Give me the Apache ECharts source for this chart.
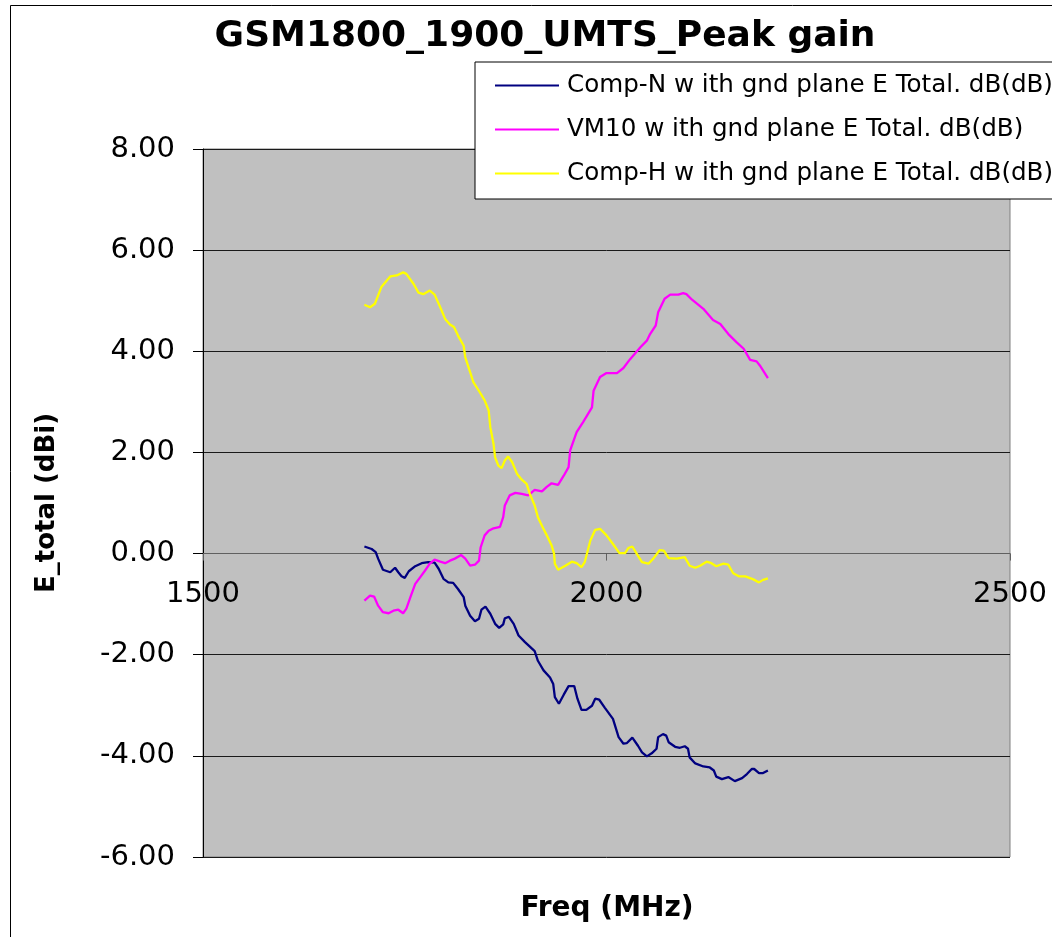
<!DOCTYPE html>
<html>
<head>
<meta charset="utf-8">
<script src="https://cdn.jsdelivr.net/npm/echarts@6/dist/echarts.min.js"></script>
<style>
html,body{margin:0;padding:0;background:#fff;}
#chart{width:1052px;height:937px;}
</style>
</head>
<body>
<div id="chart"></div>
<script>
// ---- data ----
var titleText = 'GSM1800_1900_UMTS_Peak gain';
var seriesNames = [
  'Comp-N w ith gnd plane E Total. dB(dB)',
  'VM10 w ith gnd plane E Total. dB(dB)',
  'Comp-H w ith gnd plane E Total. dB(dB)'
];
var seriesColors = ['#000080', '#FF00FF', '#FFFF00'];

var compNFreq = [1700,1709,1714,1717,1723,1732,1738,1742,1746,1750,1755,1763,1771,1779,1787,1792,1798,1804,1810,1816,1823,1825,1831,1837,1842,1845,1850,1856,1862,1867,1872,1874,1879,1885,1891,1899,1905,1911,1915,1922,1930,1934,1936,1941,1947,1953,1960,1964,1969,1975,1982,1986,1991,1998,2008,2015,2021,2025,2032,2039,2044,2050,2056,2062,2064,2070,2074,2077,2085,2091,2097,2101,2103,2110,2120,2128,2133,2136,2143,2151,2159,2168,2174,2180,2183,2189,2194,2200];
var compNGain = [0.14,0.09,0.03,-0.10,-0.32,-0.37,-0.28,-0.37,-0.45,-0.48,-0.35,-0.25,-0.19,-0.17,-0.18,-0.30,-0.50,-0.57,-0.58,-0.70,-0.86,-1.03,-1.23,-1.34,-1.29,-1.11,-1.05,-1.19,-1.39,-1.47,-1.40,-1.28,-1.25,-1.39,-1.62,-1.75,-1.84,-1.93,-2.12,-2.31,-2.45,-2.58,-2.84,-2.97,-2.79,-2.62,-2.62,-2.87,-3.09,-3.09,-3.01,-2.87,-2.89,-3.05,-3.27,-3.63,-3.76,-3.75,-3.64,-3.80,-3.93,-4.01,-3.95,-3.86,-3.63,-3.57,-3.60,-3.73,-3.82,-3.84,-3.81,-3.86,-4.03,-4.15,-4.21,-4.23,-4.29,-4.41,-4.46,-4.42,-4.50,-4.44,-4.36,-4.26,-4.26,-4.34,-4.34,-4.29];

var vm10Freq = [1700,1707,1712,1717,1723,1730,1736,1742,1748,1752,1757,1763,1769,1775,1781,1787,1794,1800,1806,1812,1820,1825,1831,1837,1842,1844,1849,1854,1860,1868,1872,1874,1880,1887,1895,1903,1911,1920,1926,1932,1940,1947,1953,1955,1963,1971,1982,1984,1992,2000,2013,2021,2029,2042,2050,2054,2061,2064,2072,2079,2089,2095,2099,2106,2120,2132,2141,2151,2161,2170,2178,2186,2190,2200];
var vm10Gain = [-0.93,-0.83,-0.85,-1.03,-1.16,-1.18,-1.13,-1.11,-1.18,-1.09,-0.86,-0.60,-0.47,-0.34,-0.20,-0.12,-0.16,-0.19,-0.14,-0.10,-0.03,-0.10,-0.24,-0.22,-0.14,0.12,0.36,0.45,0.50,0.53,0.72,0.95,1.15,1.20,1.18,1.15,1.26,1.23,1.32,1.39,1.36,1.54,1.71,2.04,2.40,2.60,2.89,3.22,3.49,3.57,3.57,3.67,3.84,4.08,4.21,4.34,4.51,4.77,5.04,5.12,5.12,5.15,5.13,5.02,4.84,4.62,4.54,4.34,4.18,4.05,3.83,3.80,3.72,3.47];

var compHFreq = [1700,1707,1713,1721,1732,1740,1748,1752,1761,1767,1773,1781,1787,1794,1800,1806,1811,1816,1823,1825,1831,1835,1843,1849,1854,1856,1860,1862,1866,1870,1874,1878,1883,1889,1895,1901,1905,1911,1915,1920,1926,1932,1935,1936,1940,1949,1957,1963,1969,1973,1980,1986,1992,2000,2008,2016,2023,2027,2032,2037,2044,2052,2058,2066,2071,2077,2087,2097,2103,2110,2116,2124,2130,2136,2145,2151,2157,2164,2172,2182,2189,2194,2200];
var compHGain = [4.92,4.87,4.94,5.27,5.48,5.50,5.56,5.53,5.33,5.16,5.13,5.20,5.12,4.87,4.64,4.53,4.48,4.31,4.11,3.88,3.59,3.39,3.19,3.03,2.83,2.50,2.17,1.90,1.74,1.69,1.84,1.92,1.81,1.58,1.46,1.38,1.18,0.95,0.72,0.55,0.36,0.16,0.00,-0.20,-0.32,-0.24,-0.16,-0.19,-0.27,-0.17,0.26,0.47,0.49,0.36,0.19,0.01,0.01,0.11,0.14,0.01,-0.17,-0.20,-0.10,0.07,0.06,-0.09,-0.10,-0.07,-0.24,-0.28,-0.24,-0.16,-0.19,-0.25,-0.20,-0.22,-0.39,-0.45,-0.45,-0.51,-0.57,-0.52,-0.49];

var xMin = 1500, xMax = 2500, xStep = 500;
var yMin = -6, yMax = 8, yStep = 2;
var xName = 'Freq (MHz)';
var yName = 'E_total (dBi)';

function zip(a, b) { return a.map(function (v, i) { return [v, b[i]]; }); }
var seriesData = [zip(compNFreq, compNGain), zip(vm10Freq, vm10Gain), zip(compHFreq, compHGain)];

var FONT = 'DejaVu Sans';
var GRID = {left: 203, top: 149, width: 807, height: 708};
var chart = echarts.init(document.getElementById('chart'), null, {renderer: 'canvas'});
chart.setOption({
  backgroundColor: '#ffffff',
  animation: false,
  graphic: [
    {type: 'rect', silent: true, z: -10, shape: {x: 10.5, y: 5.5, width: 1100, height: 1000},
     style: {fill: 'none', stroke: '#000', lineWidth: 1}},
    {type: 'text', x: 545, y: 37, z: 10,
     style: {text: titleText, font: 'bold 36px "DejaVu Sans"', fill: '#000', align: 'center', verticalAlign: 'middle'}},
    {type: 'text', x: 607, y: 909, z: 10,
     style: {text: xName, font: 'bold 28px "DejaVu Sans"', fill: '#000', align: 'center', verticalAlign: 'middle'}}
  ],
  legend: {
    orient: 'vertical', left: 475, top: 62,
    padding: [11, 60, 13, 20], itemGap: 19,
    itemWidth: 64, itemHeight: 2, icon: 'rect',
    backgroundColor: '#fff', borderColor: '#000', borderWidth: 1, borderRadius: 0,
    textStyle: {fontFamily: FONT, fontSize: 24.6, color: '#000', padding: [0, 0, 0, 3]},
    data: seriesNames
  },
  grid: {left: GRID.left, top: GRID.top, width: GRID.width, height: GRID.height, show: true,
    containLabel: false, outerBoundsMode: 'none',
    backgroundColor: '#C0C0C0', borderColor: '#808080', borderWidth: 1},
  xAxis: {
    type: 'value', min: xMin, max: xMax, interval: xStep, position: 'bottom',
    axisLine: {onZero: false, lineStyle: {color: '#606060', width: 1}},
    axisTick: {show: true, length: 7, lineStyle: {color: '#606060'}},
    axisLabel: {margin: 26, fontFamily: FONT, fontSize: 29, color: '#000',
      formatter: function (v) { return String(v); }},
    splitLine: {show: false}
  },
  yAxis: {
    type: 'value', min: yMin, max: yMax, interval: yStep,
    name: yName, nameLocation: 'middle', nameGap: 143,
    nameTextStyle: {fontFamily: FONT, fontWeight: 'bold', fontSize: 26, color: '#000'},
    axisLine: {show: true, onZero: false, lineStyle: {color: '#000', width: 1}},
    axisTick: {show: true, length: 10, lineStyle: {color: '#000'}},
    axisLabel: {margin: 28, fontFamily: FONT, fontSize: 29, color: '#000',
      formatter: function (v) { return v.toFixed(2); }},
    splitLine: {show: true, lineStyle: {color: '#1a1a1a', width: 1}}
  },
  series: seriesNames.map(function (n, i) {
    return {
      name: n, type: 'line', data: seriesData[i],
      showSymbol: false, symbol: 'none', smooth: false,
      lineStyle: {color: seriesColors[i], width: 2.3},
      itemStyle: {color: seriesColors[i]},
      z: 3
    };
  })
});
// Put the x axis (line, ticks, labels) on the y = 0 line, using the library's own y scale.
var zeroY = chart.convertToPixel({yAxisIndex: 0}, 0);
chart.setOption({xAxis: {offset: zeroY - (GRID.top + GRID.height)}});
</script>
</body>
</html>
